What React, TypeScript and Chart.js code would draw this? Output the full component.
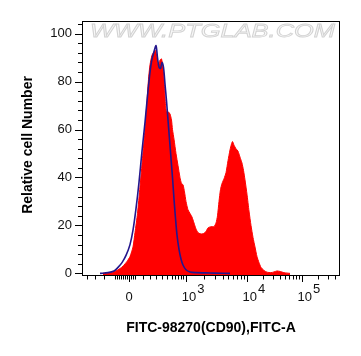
import React, { useEffect, useRef } from 'react';
import { Chart, registerables } from 'chart.js';

Chart.register(...registerables);

// x values are display channels (0 = left edge of plot, 258 = right edge)
const RED_X = [21, 28, 33, 38, 41, 45, 48, 51, 53, 55.5, 58, 60.5, 63, 65, 66.5, 68, 70, 72, 73.5, 75, 76.5, 78, 79.5, 81, 82.5, 83.5, 84.5, 86, 88, 89.5, 90.5, 92, 94, 96, 98, 99.5, 101, 102.5, 104, 106, 108, 110, 112, 114, 116, 118, 121, 124, 126, 129, 132, 134, 135.5, 137, 138.5, 140, 142, 144, 146, 148, 149.5, 150.5, 152, 154, 156, 158, 160, 161.5, 163, 165, 167, 169, 171, 173, 175, 177, 179, 182, 185, 189, 192, 195, 198, 202, 208];
const RED_Y = [0, 0.3, 0.8, 2, 3, 5, 7, 11, 17, 25, 36, 48, 60, 72, 81, 87, 91, 92.5, 93, 90, 86.5, 89, 89.5, 86, 78, 70, 67.5, 67.5, 66.5, 64, 60, 56, 50, 45, 40, 37.5, 37, 34, 30, 26.5, 25, 23.5, 21, 18.5, 17, 16.5, 16.5, 17.5, 19, 19.5, 19.5, 21, 24, 30, 35, 37.5, 39.5, 42, 47, 51.5, 54, 55, 53.5, 52, 51, 48.5, 46, 43, 39, 33, 26, 20, 15, 11, 7, 4.5, 2.5, 1.2, 0.5, 0.3, 0.6, 1.0, 0.8, 0.3, 0];

const BLUE_X = [18, 26, 32, 36, 40, 44, 48, 51, 54, 57, 60, 63, 65.5, 68, 70, 72, 74, 75.5, 77, 78.5, 80, 81.5, 83, 84.5, 86, 87.5, 89, 90.5, 92, 93.5, 95, 97, 99, 101, 104, 108, 114, 123, 133, 148];
const BLUE_Y = [0, 0.3, 1, 2.5, 4.5, 7.5, 12, 18, 27, 38, 51, 63, 74, 84, 89.5, 92.5, 95, 90, 86, 85.5, 88, 86, 79, 72, 64, 56, 48, 40, 31, 23, 16, 10, 6, 3.5, 1.5, 0.6, 0.3, 0.2, 0.1, 0];

const Y_TICKS = [0, 20, 40, 60, 80, 100];
const Y_MINOR_STEP = 4;

const X_MAJOR_POS = [47, 104, 164.7, 219.7];
const X_MAJOR_BASE = ['0', '10', '10', '10'];
const X_MAJOR_EXP = ['', '3', '4', '5'];
const X_MINOR_LOW = [4.7, 13, 22, 33, 35, 37, 39, 41, 43, 45, 49, 51, 53, 61.3, 68, 74, 79.7, 85.3, 89.7, 93, 96.3, 99, 101.3];

const X_TITLE = 'FITC-98270(CD90),FITC-A';
const Y_TITLE = 'Relative cell Number';
const WATERMARK = 'WWW.PTGLAB.COM';

const FONT = '"Liberation Sans", Arial, Helvetica, sans-serif';

const framePlugin = {
  id: 'frame',
  afterDraw(chart: any) {
    const ctx: CanvasRenderingContext2D = chart.ctx;
    const xs = chart.scales.x;
    const ys = chart.scales.y;
    const { left, right, top, bottom } = chart.chartArea;
    const L = Math.round(left);
    const R = Math.round(right);
    const T = Math.round(top);
    const B = Math.round(bottom);

    // watermark
    ctx.save();
    ctx.font = `italic 19px ${FONT}`;
    const ww = ctx.measureText(WATERMARK).width;
    ctx.translate(90, 37);
    ctx.scale(245 / ww, 1);
    ctx.textAlign = 'left';
    ctx.textBaseline = 'alphabetic';
    ctx.fillStyle = '#f7f7f7';
    ctx.fillText(WATERMARK, 0, 0);
    ctx.strokeStyle = '#d2d2d2';
    ctx.lineWidth = 0.8;
    ctx.strokeText(WATERMARK, 0, 0);
    ctx.restore();

    ctx.save();
    ctx.strokeStyle = '#000';
    ctx.lineWidth = 1;
    ctx.strokeRect(L + 0.5, T + 0.5, R - L - 1, B - T - 1);

    // y ticks
    ctx.beginPath();
    for (let v = 0; v <= 104; v += Y_MINOR_STEP) {
      const y = Math.round(ys.getPixelForValue(v)) + 0.5;
      const len = Y_TICKS.includes(v) ? 7 : 4;
      ctx.moveTo(L - len, y);
      ctx.lineTo(L, y);
    }
    ctx.stroke();

    ctx.fillStyle = '#111';
    ctx.font = `13px ${FONT}`;
    ctx.textAlign = 'right';
    ctx.textBaseline = 'middle';
    Y_TICKS.forEach((v) => {
      ctx.fillText(String(v), L - 10, ys.getPixelForValue(v));
    });

    // x ticks
    const minor: number[] = [...X_MINOR_LOW];
    for (let k = 1; k < X_MAJOR_POS.length; k++) {
      const a = X_MAJOR_POS[k];
      const w = k + 1 < X_MAJOR_POS.length ? X_MAJOR_POS[k + 1] - a : X_MAJOR_POS[k] - X_MAJOR_POS[k - 1];
      for (let m = 2; m <= 9; m++) {
        const p = a + Math.log10(m) * w;
        if (p < xs.max) minor.push(p);
      }
    }
    ctx.beginPath();
    minor.forEach((p) => {
      const x = Math.round(xs.getPixelForValue(p)) + 0.5;
      ctx.moveTo(x, B);
      ctx.lineTo(x, B + 3.5);
    });
    X_MAJOR_POS.forEach((p) => {
      const x = Math.round(xs.getPixelForValue(p)) + 0.5;
      ctx.moveTo(x, B);
      ctx.lineTo(x, B + 6);
    });
    ctx.stroke();

    ctx.textBaseline = 'alphabetic';
    ctx.font = `13px ${FONT}`;
    X_MAJOR_POS.forEach((p, i) => {
      const x = xs.getPixelForValue(p);
      const base = X_MAJOR_BASE[i];
      const exp = X_MAJOR_EXP[i];
      if (!exp) {
        ctx.textAlign = 'center';
        ctx.fillText(base, x, 301);
      } else {
        const w1 = ctx.measureText(base).width;
        const start = x + 3 - w1 / 2;
        ctx.textAlign = 'left';
        ctx.fillText(base, start, 301);
        ctx.fillText(exp, start + w1 + 1, 293);
      }
    });

    // titles
    ctx.fillStyle = '#000';
    ctx.font = `bold 14px ${FONT}`;
    ctx.textAlign = 'center';
    ctx.textBaseline = 'middle';
    ctx.fillText(X_TITLE, (left + right) / 2, 328);
    ctx.translate(28, 145);
    ctx.rotate(-Math.PI / 2);
    ctx.fillText(Y_TITLE, 0, 0);
    ctx.restore();
  },
};

export default function App() {
  const ref = useRef<HTMLCanvasElement | null>(null);

  useEffect(() => {
    if (!ref.current) return;
    const chart = new Chart(ref.current, {
      type: 'line',
      data: {
        datasets: [
          {
            label: 'Isotype',
            data: BLUE_X.map((x, i) => ({ x, y: BLUE_Y[i] })),
            borderColor: '#24168c',
            borderWidth: 1.6,
            pointRadius: 0,
            fill: false,
            tension: 0.3,
          },
          {
            label: 'CD90',
            data: RED_X.map((x, i) => ({ x, y: RED_Y[i] })),
            borderColor: '#ff0000',
            backgroundColor: '#ff0000',
            borderWidth: 1,
            pointRadius: 0,
            fill: 'start',
            tension: 0.2,
          },
        ],
      },
      options: {
        responsive: false,
        devicePixelRatio: 1,
        animation: false,
        layout: { padding: { top: 21, right: 21, left: 0, bottom: 0 } },
        plugins: { legend: { display: false }, tooltip: { enabled: false } },
        scales: {
          x: {
            type: 'linear',
            min: 0,
            max: 258,
            grid: { display: false },
            border: { display: false },
            ticks: { display: false },
            afterFit: (s: any) => {
              s.height = 80;
            },
          },
          y: {
            type: 'linear',
            min: -1.1,
            max: 105.3,
            grid: { display: false },
            border: { display: false },
            ticks: { display: false },
            afterFit: (s: any) => {
              s.width = 82;
            },
          },
        },
      },
      plugins: [framePlugin],
    } as any);
    return () => chart.destroy();
  }, []);

  return (
    <div style={{ position: 'absolute', left: 0, top: 0, width: 361, height: 356, background: '#fff' }}>
      <canvas ref={ref} width={361} height={356} style={{ width: 361, height: 356, display: 'block' }} />
    </div>
  );
}
